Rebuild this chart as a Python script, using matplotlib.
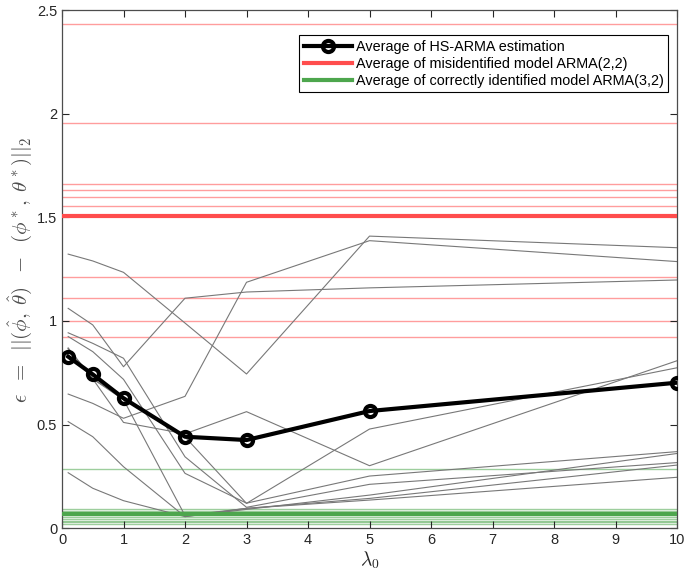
import matplotlib
matplotlib.use("Agg")
import matplotlib.pyplot as plt
from matplotlib.ticker import FuncFormatter

plt.rcParams['font.family'] = ['Liberation Sans', 'DejaVu Sans']
plt.rcParams['mathtext.fontset'] = 'cm'

lambda0 = [0.1, 0.5, 1, 2, 3, 5, 10]

# individual HS-ARMA runs
run_A = [1.323, 1.29, 1.235, 0.99, 0.744, 1.41, 1.354]
run_B = [1.061, 0.981, 0.779, 1.11, 1.14, 1.16, 1.198]
run_C = [0.647, 0.602, 0.53, 0.636, 1.187, 1.388, 1.287]
run_D = [0.943, 0.892, 0.82, 0.344, 0.10, 0.211, 0.316]
run_E = [0.514, 0.441, 0.296, 0.055, 0.09, 0.159, 0.36]
run_F = [0.267, 0.192, 0.132, 0.055, 0.095, 0.143, 0.304]
run_G = [0.87, 0.72, 0.51, 0.455, 0.562, 0.301, 0.808]
run_H = [0.866, 0.72, 0.63, 0.44, 0.119, 0.478, 0.774]
run_I = [0.925, 0.852, 0.718, 0.264, 0.12, 0.251, 0.369]
run_J = [0.866, 0.72, 0.62, 0.06, 0.095, 0.135, 0.245]
runs = [run_A, run_B, run_C, run_D, run_E, run_F, run_G, run_H, run_I, run_J]

hs_arma_avg = [0.828, 0.742, 0.627, 0.441, 0.425, 0.565, 0.702]

misid_values = [2.436, 1.958, 1.66, 1.634, 1.60, 1.557, 1.211, 1.113, 1.0, 0.921]
misid_avg = 1.509

correct_values = [0.286, 0.090, 0.080, 0.072, 0.064, 0.055, 0.045, 0.034, 0.027, 0.020]
correct_avg = 0.068

fig = plt.figure(figsize=(6.86, 5.81), dpi=100)
ax = fig.add_axes([0.0904, 0.0912, 0.8965, 0.8908])

red = (1.0, 0.3, 0.3)
green = (0.3, 0.65, 0.3)

for v in misid_values:
    ax.axhline(v, color=red, lw=1.0, alpha=0.55, zorder=1)
for v in correct_values:
    ax.axhline(v, color=green, lw=1.0, alpha=0.55, zorder=1)
for r in runs:
    ax.plot(lambda0, r, color=(0.47, 0.47, 0.47), lw=0.8, zorder=2)

h1, = ax.plot(lambda0, hs_arma_avg, color='black', lw=3, marker='o', ms=8,
              mfc='none', mec='black', mew=3, zorder=5,
              label='Average of HS-ARMA estimation')
h2 = ax.axhline(misid_avg, color=red, lw=3, zorder=3,
                label='Average of misidentified model ARMA(2,2)')
h3 = ax.axhline(correct_avg, color=green, lw=3, zorder=3,
                label='Average of correctly identified model ARMA(3,2)')

ax.set_xlim(0, 10)
ax.set_ylim(0, 2.5)
ax.set_xticks(range(0, 11))
ax.set_yticks([0, 0.5, 1, 1.5, 2, 2.5])
ax.yaxis.set_major_formatter(FuncFormatter(lambda v, p: f"{v:g}"))
ax.tick_params(direction='in', top=True, right=True, labelsize=10.5,
               colors='0.15', length=5, width=0.8)
for s in ax.spines.values():
    s.set_color('0.3')
    s.set_linewidth(0.9)

ax.set_xlabel(r'$\lambda_0$', fontsize=14, color='0.15', labelpad=2)
ax.set_ylabel(r'$\epsilon\;\;=\;\;||(\hat{\phi},\;\hat{\theta})\;\;-\;\;(\phi^*,\;\theta^*)||_2$',
              fontsize=15, color='0.3', labelpad=2)

leg = ax.legend(handles=[h1, h2, h3], loc='upper right',
                bbox_to_anchor=(0.986, 0.952), fontsize=10.4,
                fancybox=False, framealpha=1, edgecolor='black',
                handlelength=3.3, borderpad=0.32, labelspacing=0.2,
                handletextpad=0.3, borderaxespad=0)
leg.get_frame().set_linewidth(0.8)

fig.savefig('out.png', dpi=100)
